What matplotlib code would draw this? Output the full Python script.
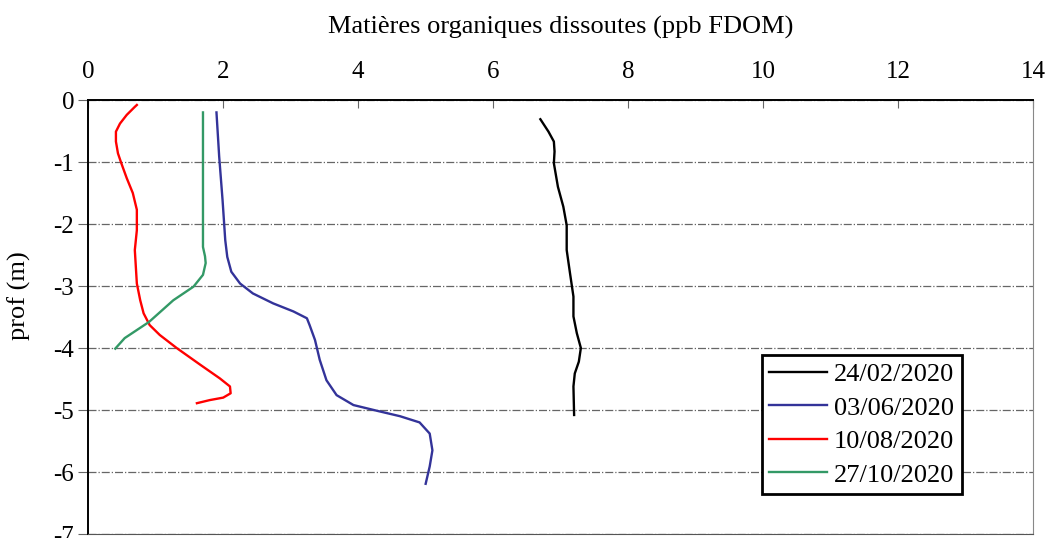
import matplotlib.pyplot as plt
from matplotlib.ticker import MultipleLocator

plt.rcParams['font.family'] = ['Liberation Serif', 'DejaVu Serif']
plt.rcParams['axes.unicode_minus'] = False

# Profils FDOM (ppb) en fonction de la profondeur (m)
x_2402 = [6.70, 6.82, 6.90, 6.91, 6.90, 6.96, 7.04, 7.09, 7.09, 7.14, 7.19, 7.19, 7.24, 7.30,
          7.27, 7.21, 7.19, 7.20]
y_2402 = [-0.31, -0.51, -0.67, -0.83, -1.02, -1.40, -1.72, -2.02, -2.42, -2.80, -3.17, -3.49, -3.76, -4.00,
          -4.22, -4.41, -4.62, -5.08]

x_0306 = [1.90, 1.94, 1.99, 2.03, 2.06, 2.12, 2.25, 2.44, 2.74, 3.04, 3.24, 3.28, 3.36, 3.43,
          3.53, 3.68, 3.93, 4.27, 4.62, 4.91, 5.06, 5.10, 5.06, 5.00]
y_0306 = [-0.20, -0.91, -1.61, -2.26, -2.53, -2.77, -2.96, -3.12, -3.28, -3.41, -3.52, -3.63, -3.87, -4.19,
          -4.52, -4.76, -4.92, -5.01, -5.10, -5.20, -5.38, -5.65, -5.91, -6.19]

x_1008 = [0.72, 0.69, 0.57, 0.47, 0.41, 0.41, 0.44, 0.49, 0.57, 0.66, 0.72, 0.72, 0.69, 0.72,
          0.77, 0.82, 0.91, 1.06, 1.31, 1.66, 1.95, 2.10, 2.11, 2.00, 1.80, 1.61]
y_1008 = [-0.08, -0.11, -0.24, -0.38, -0.51, -0.67, -0.86, -1.02, -1.26, -1.50, -1.77, -2.10, -2.42, -2.96,
          -3.23, -3.44, -3.63, -3.79, -4.00, -4.27, -4.49, -4.62, -4.73, -4.80, -4.84, -4.89]

x_2710 = [1.70, 1.70, 1.73, 1.74, 1.70, 1.56, 1.26, 0.90, 0.54, 0.40]
y_2710 = [-0.20, -2.37, -2.52, -2.63, -2.82, -3.01, -3.23, -3.58, -3.84, -4.01]

series = [
    (x_2402, y_2402, '#000000', '24/02/2020'),
    (x_0306, y_0306, '#333399', '03/06/2020'),
    (x_1008, y_1008, '#ff0000', '10/08/2020'),
    (x_2710, y_2710, '#339966', '27/10/2020'),
]

fig = plt.figure(figsize=(10.47, 5.38), dpi=100)
ax = fig.add_axes([0.0843, 0.0074, 0.9023, 0.8067])

for x, y, c, lab in series:
    ax.plot(x, y, color=c, lw=1.7, label=lab, solid_joinstyle='round')

ax.set_xlim(0, 14)
ax.set_ylim(-7, 0)
ax.xaxis.set_major_locator(MultipleLocator(2))
ax.yaxis.set_major_locator(MultipleLocator(1))

ax.xaxis.tick_top()
ax.xaxis.set_label_position('top')
ax.tick_params(axis='x', direction='in', length=6, color='#666666', labelsize=18, pad=12)
ax.tick_params(axis='y', direction='out', length=7, color='#666666', labelsize=18, pad=3)
ax.set_xlabel('Matières organiques dissoutes (ppb FDOM)', fontsize=19, labelpad=20)
ax.set_ylabel('prof (m)', fontsize=19)
ax.yaxis.set_label_coords(-0.061, 0.55)

ax.grid(True, axis='y', linestyle='-.', color='#666666', lw=0.9)
ax.set_axisbelow(True)

ax.spines['top'].set_color('black')
ax.spines['top'].set_linewidth(1.4)
ax.spines['left'].set_color('black')
ax.spines['left'].set_linewidth(1.4)
ax.spines['right'].set_color('#888888')
ax.spines['bottom'].set_color('#555555')

leg = ax.legend(loc='lower right', bbox_to_anchor=(0.9245, 0.092), fontsize=19, frameon=True,
                fancybox=False, edgecolor='black', framealpha=1, handlelength=2.2,
                handletextpad=0.25, labelspacing=0.38, borderpad=0.28, borderaxespad=0)
leg.get_frame().set_linewidth(2)

fig.savefig('out.png', dpi=100)
